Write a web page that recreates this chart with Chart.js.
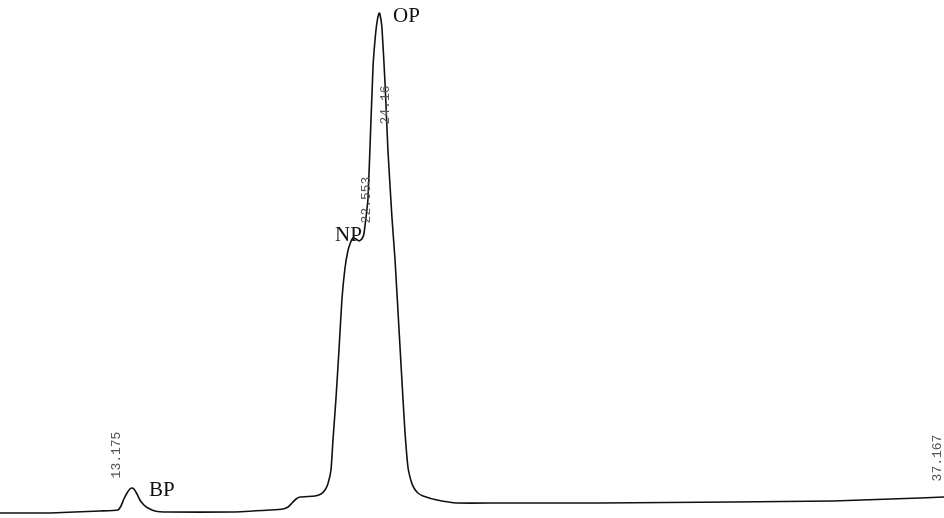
<!DOCTYPE html>
<html>
<head>
<meta charset="utf-8">
<script src="https://cdn.jsdelivr.net/npm/chart.js@4/dist/chart.umd.min.js"></script>
<style>
  html, body { margin: 0; padding: 0; background: #fff; }
  #wrap { width: 944px; height: 518px; position: relative; }
</style>
</head>
<body>
<div id="wrap"><canvas id="chrom"></canvas></div>
<script>
// retention time (min) and detector signal
const times = [7.29, 9.53, 11.78, 12.59, 12.73, 12.86, 13.00, 13.13, 13.22, 13.31,
  13.45, 13.58, 13.76, 13.94, 14.26, 14.80, 17.76, 19.43, 20.01, 20.24,
  20.42, 20.60, 20.78, 21.45, 21.72, 21.90, 22.03, 22.17, 22.26, 22.39,
  22.53, 22.66, 22.80, 22.93, 23.04, 23.16, 23.29, 23.43, 23.56, 23.65,
  23.74, 23.83, 23.92, 24.06, 24.15, 24.24, 24.33, 24.37, 24.46, 24.60,
  24.73, 24.91, 25.05, 25.23, 25.41, 25.50, 25.63, 25.77, 25.90, 26.08,
  26.31, 26.94, 27.84, 29.77, 34.26, 40.24, 44.74, 48.65, 49.73];
const signal = [-0.2, -0.2, 0.2, 0.4, 1.2, 2.6, 3.8, 4.6, 4.8, 4.6,
  3.6, 2.4, 1.4, 0.8, 0.2, 0.0, 0.0, 0.4, 0.6, 1.0,
  1.8, 2.6, 3.0, 3.2, 3.6, 4.4, 5.6, 8.4, 14.4, 22.4,
  32.4, 42.4, 48.8, 52.2, 53.8, 54.8, 54.6, 54.2, 54.6, 55.6,
  58.8, 62.4, 72.4, 89.0, 94.4, 98.0, 99.8, 99.6, 97.0, 85.8,
  72.4, 59.0, 50.4, 36.4, 22.4, 15.8, 9.0, 6.2, 4.8, 3.8,
  3.2, 2.4, 1.8, 1.8, 1.8, 2.0, 2.2, 2.8, 3.0];

// peak names
const peakNames = ["BP", "NP", "OP"];
const peakNameT = [13.99, 22.35, 24.96];
const peakNameV = [3.2, 54.2, 98.0];

// printed retention times (rotated)
const rtLabels = ["13.175", "22.553", "24.16", "37.167"];
const rtLabelT = [12.55, 23.79, 24.64, 49.42];
const rtLabelV = [11.4, 62.4, 81.4, 10.8];

const labelPlugin = {
  id: "peakLabels",
  afterDatasetsDraw(chart) {
    const { ctx, scales: { x, y } } = chart;
    ctx.save();
    ctx.fillStyle = "#111";
    ctx.font = "21px 'Liberation Serif', 'DejaVu Serif', serif";
    ctx.textAlign = "left";
    ctx.textBaseline = "alphabetic";
    peakNames.forEach((n, i) => {
      ctx.fillText(n, x.getPixelForValue(peakNameT[i]), y.getPixelForValue(peakNameV[i]));
    });
    ctx.fillStyle = "#555";
    ctx.font = "13px 'Liberation Mono', 'DejaVu Sans Mono', monospace";
    ctx.textAlign = "center";
    ctx.textBaseline = "middle";
    rtLabels.forEach((t, i) => {
      ctx.save();
      ctx.translate(x.getPixelForValue(rtLabelT[i]), y.getPixelForValue(rtLabelV[i]));
      ctx.rotate(-Math.PI / 2);
      ctx.fillText(t, 0, 0);
      ctx.restore();
    });
    ctx.restore();
  }
};

new Chart(document.getElementById("chrom"), {
  type: "line",
  data: {
    datasets: [{
      data: times.map((t, i) => ({ x: t, y: signal[i] })),
      borderColor: "#111",
      borderWidth: 1.6,
      pointRadius: 0,
      fill: false,
      tension: 0.15
    }]
  },
  options: {
    responsive: true,
    maintainAspectRatio: false,
    animation: false,
    layout: { padding: 0 },
    plugins: { legend: { display: false }, tooltip: { enabled: false } },
    scales: {
      x: { type: "linear", min: 7.29, max: 49.73, display: false },
      y: { min: -1.2, max: 102.4, display: false }
    }
  },
  plugins: [labelPlugin]
});
</script>
</body>
</html>
